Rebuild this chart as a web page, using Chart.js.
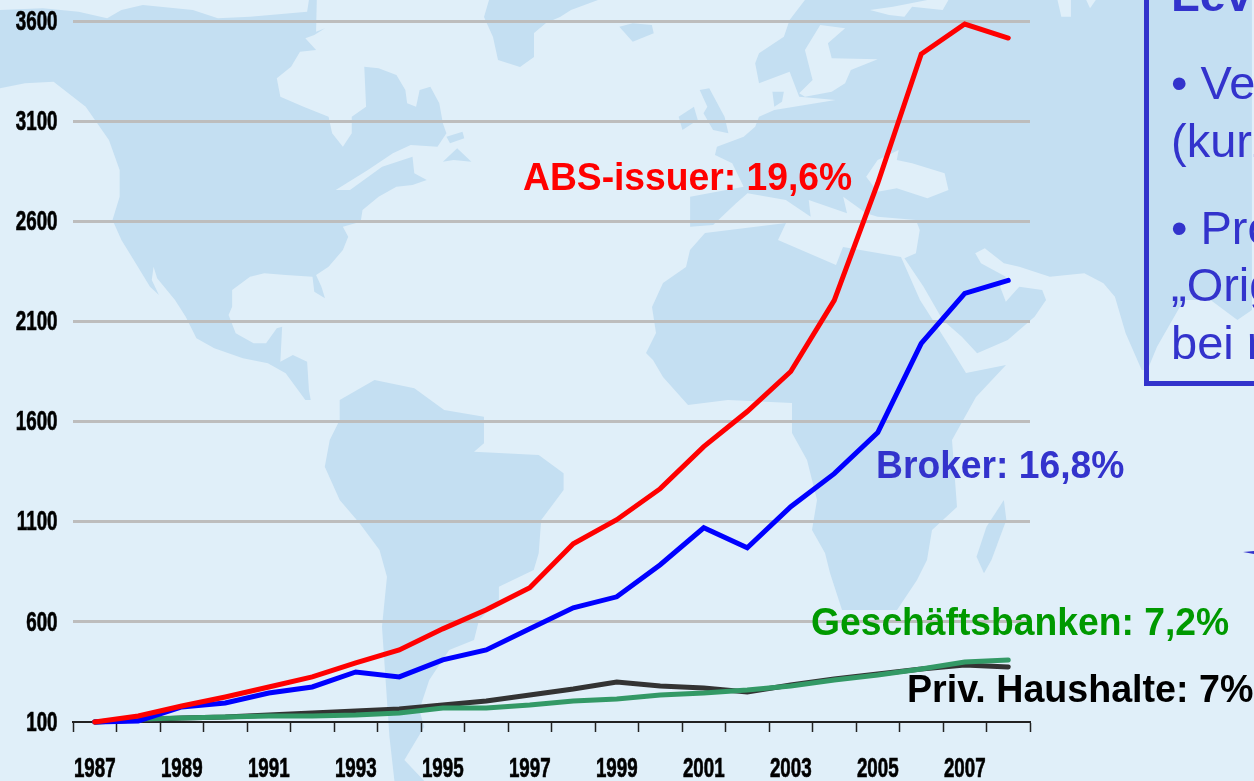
<!DOCTYPE html>
<html lang="de">
<head>
<meta charset="utf-8">
<title>Leverage</title>
<script src="https://cdn.jsdelivr.net/npm/chart.js@4"></script>
<style>
html,body{margin:0;padding:0;width:1254px;height:781px;overflow:hidden;background:#e0eff9;}
#wrap{position:relative;width:1254px;height:781px;overflow:hidden;}
canvas{position:absolute;left:0;top:0;}
.lab{position:absolute;font-family:"Liberation Sans",Arial,sans-serif;font-weight:bold;font-size:38px;line-height:42px;white-space:nowrap;transform-origin:0 0;transform:scaleX(.98);}
.box{position:absolute;left:1144px;top:-20px;width:200px;height:395.5px;border:5px solid #3333cc;box-sizing:content-box;}
.t{position:absolute;left:1171px;font-family:"Liberation Sans",Arial,sans-serif;font-size:47px;line-height:52px;color:#3333cc;white-space:nowrap;}
</style>
</head>
<body>
<div id="wrap">
<canvas id="c" width="1254" height="781"></canvas>
<div class="lab" style="left:523px;top:156px;color:#ff0000">ABS-issuer: 19,6%</div>
<div class="lab" style="left:876px;top:444px;color:#3333cc">Broker: 16,8%</div>
<div class="lab" style="left:811px;top:601px;color:#009900">Geschäftsbanken: 7,2%</div>
<div class="lab" style="left:907px;top:668px;color:#000000;transform:scaleX(.99)">Priv. Haushalte: 7%</div>
<div class="box"></div>
<div class="t" style="top:-31px;font-weight:bold">Lev</div>
<div class="t" style="top:57px">• Ve</div>
<div class="t" style="top:115px">(kurz</div>
<div class="t" style="top:202px">• Pro</div>
<div class="t" style="top:259px">„Orig</div>
<div class="t" style="top:317px">bei r</div>
</div>
<script>
const years = ["1987","1988","1989","1990","1991","1992","1993","1994","1995","1996","1997","1998","1999","2000","2001","2002","2003","2004","2005","2006","2007","2008"];
const absIssuer = [100,130,180,225,275,325,395,460,565,660,770,990,1110,1265,1475,1650,1850,2205,2790,3435,3585,3515];
const broker = [100,105,175,195,245,275,350,325,410,460,565,670,725,885,1070,970,1175,1340,1545,1990,2240,2305];
const banken = [100,115,120,125,130,130,135,145,170,170,185,205,215,235,245,260,280,310,335,365,400,410];
const haushalte = [100,110,120,125,135,145,155,165,185,205,235,265,300,280,270,250,285,315,340,365,385,375];

// Decorative background map outlines: [xOrigin, xFactor, yOrigin, yFactor, points]
const z4=[0,2.8,0,3], z5=[560,2.613,0,3], z6=[280,2.01,360,3], px=[0,1,0,1];
const land=[
 [z4,[0,30,120,25,220,35,300,55,340,30,400,15,540,30,610,55,700,50,860,35,865,0,887,0,885,95,910,85,880,105,855,115,885,150,840,155,815,200,775,235,785,290,850,320,920,350,930,400,960,440,985,400,985,350,1025,320,1020,200,1060,205,1110,225,1135,270,1140,310,1165,320,1175,270,1205,260,1230,310,1240,370,1250,400,1225,440,1150,435,1100,460,1030,510,940,570,980,570,1070,500,1155,470,1160,520,1195,540,1155,555,1110,560,1060,590,1015,630,1010,665,960,680,975,710,960,750,920,800,885,825,900,860,910,895,880,875,875,830,800,825,740,820,700,830,650,870,650,920,640,945,660,1000,710,1030,745,1030,775,985,790,980,785,1085,820,1065,860,1085,865,1170,870,1200,855,1200,800,1120,750,1090,680,1075,600,1045,550,1015,520,950,490,900,440,835,430,800,425,840,445,885,420,860,380,790,340,720,315,660,335,590,335,510,305,420,240,320,150,245,70,250,0,265]],
 [z4,[1240,485,1280,445,1320,485,1270,480]],
 [z4,[1250,410,1295,395,1300,415,1260,430]],
 [px,[489,0,484,17,493,37,498,60,520,67,534,57,534,33,546,23,560,17,571,10,598,0]],
 [z5,[155,80,190,125,245,100,240,75,190,70]],
 [z5,[310,350,350,320,360,360,320,390]],
 [z5,[365,270,390,265,430,350,440,400,400,390,375,340,385,320]],
 [z5,[555,275,585,275,580,305,560,320]],
 [z6,[120,120,190,60,270,85,330,150,410,170,410,250,390,275,520,285,570,340,570,390,525,480,520,580,510,630,440,680,440,720,400,780,390,840,340,870,300,960,280,1050,290,1100,250,1200,290,1263,230,1263,220,1130,205,800,215,650,200,570,160,490,120,420,90,320,100,240,120,180]],
 [px,[690,250,705,233,786,223,778,240,836,265,843,247,901,257,920,300,950,347,966,373,1006,365,976,397,952,440,957,507,932,530,927,560,917,580,897,610,842,610,830,573,825,553,812,530,817,500,807,460,792,433,792,403,728,400,688,405,663,377,653,360,646,353,656,333,652,307,663,283,686,267]],
 [z6,[1455,420,1460,480,1430,600,1415,640,1400,590,1420,500]],
 [z5,[640,0,600,60,585,110,520,160,510,190,520,250,600,215,625,290,720,300,560,330,520,350,510,380,480,410,410,440,405,465,450,490,480,560,340,590,340,680,400,675,460,610,490,580,590,600,655,650,650,600,750,640,740,590,800,640,830,650,930,660,940,690,930,760,900,775,950,860,1000,960,1050,1010,1090,1060,1170,1020,1240,950,1270,900,1260,870,1200,860,1165,905,1150,860,1165,830,1100,790,1085,760,1110,745,1160,790,1200,800,1280,830,1370,820,1420,850,1450,890,1478,1000,1520,1110,1535,1110,1560,1040,1630,900,1700,900,1770,960,1808,930,1808,0]]
];
const seas=[
 [z5,[640,150,680,75,745,85,700,130,710,175,830,178,760,210,745,250,710,275,640,290,625,280,660,240]],
 [z5,[800,530,830,480,885,450,880,480,920,490,1005,520,1015,570,960,595,880,565,830,575]],
 [z5,[810,30,870,20,960,0,1015,0,1000,30,920,20,900,50,860,45]],
 [z5,[1300,0,1310,50,1335,50,1335,0]],
 [z5,[1375,0,1385,25,1400,0]]
];
const trace=(ctx,[m,p])=>{
  ctx.beginPath();
  for(let i=0;i<p.length;i+=2){
    ctx.lineTo(m[0]+p[i]/m[1], m[2]+p[i+1]/m[3]);
  }
  ctx.closePath();ctx.fill();
};
const mapPlugin={id:'map',beforeDraw(chart){
  const ctx=chart.ctx;ctx.save();
  ctx.fillStyle='#e0eff9';ctx.fillRect(0,0,1254,781);
  ctx.fillStyle='#c4dff2';land.forEach(s=>trace(ctx,s));
  ctx.fillStyle='#e0eff9';seas.forEach(s=>trace(ctx,s));
  ctx.fillStyle='#3333cc';ctx.beginPath();ctx.moveTo(1243,552);ctx.lineTo(1254,551);ctx.lineTo(1254,554);ctx.closePath();ctx.fill();
  ctx.restore();
}};
// The reference tick labels are a condensed bold face: read them from the scales and draw them narrowed.
const narrowTicks={id:'narrowTicks',afterDraw(chart){
  const ctx=chart.ctx,{x,y}=chart.scales;
  ctx.save();
  ctx.fillStyle='#000000';
  ctx.strokeStyle='#000000';
  ctx.lineWidth=.7;
  ctx.font='bold 28px "Liberation Sans",sans-serif';
  ctx.textBaseline='middle';
  const put=(text,px,py,align)=>{
    ctx.save();ctx.translate(px,py);ctx.scale(.67,1);ctx.textAlign=align;ctx.fillText(text,0,0);ctx.strokeText(text,0,0);ctx.restore();
  };
  x.ticks.forEach((t,i)=>{ if(t.label) put(t.label,x.getPixelForTick(i),769,'center'); });
  y.ticks.forEach((t,i)=>{ put(t.label,57.5,y.getPixelForTick(i)+1,'right'); });
  ctx.restore();
}};
const line=(label,data,color,w)=>({label,data,borderColor:color,backgroundColor:color,borderWidth:w,pointRadius:0,tension:0,borderCapStyle:'round',borderJoinStyle:'miter',clip:false});
new Chart(document.getElementById('c'),{
  type:'line',
  data:{labels:years,datasets:[
    line('ABS-issuer',absIssuer,'#ff0000',5),
    line('Broker',broker,'#0000ff',5),
    line('Geschäftsbanken',banken,'#339966',5),
    line('Priv. Haushalte',haushalte,'#333333',5)
  ]},
  plugins:[mapPlugin,narrowTicks],
  options:{
    responsive:false,animation:false,
    layout:{padding:{top:21,right:224,left:0,bottom:0}},
    plugins:{legend:{display:false},title:{display:false},tooltip:{enabled:false}},
    scales:{
      x:{type:'category',offset:true,
        afterFit:s=>{s.height=59;},
        grid:{display:true,offset:true,drawOnChartArea:false,drawTicks:true,tickLength:10,tickColor:'#222222',tickWidth:1.5},
        border:{display:true,color:'#222222',width:2},
        ticks:{display:false,autoSkip:false,maxRotation:0,minRotation:0,
          callback(v,i){return i%2===0?this.getLabelForValue(v):'';}}
      },
      y:{min:100,max:3600,
        afterFit:s=>{s.width=73;},
        border:{display:false},
        grid:{drawTicks:false,tickLength:0,lineWidth:3,color:c=>c.tick.value===100?'rgba(0,0,0,0)':'#bdbdbd'},
        ticks:{display:false,stepSize:500,callback:v=>String(v)}
      }
    }
  }
});
</script>
</body>
</html>
